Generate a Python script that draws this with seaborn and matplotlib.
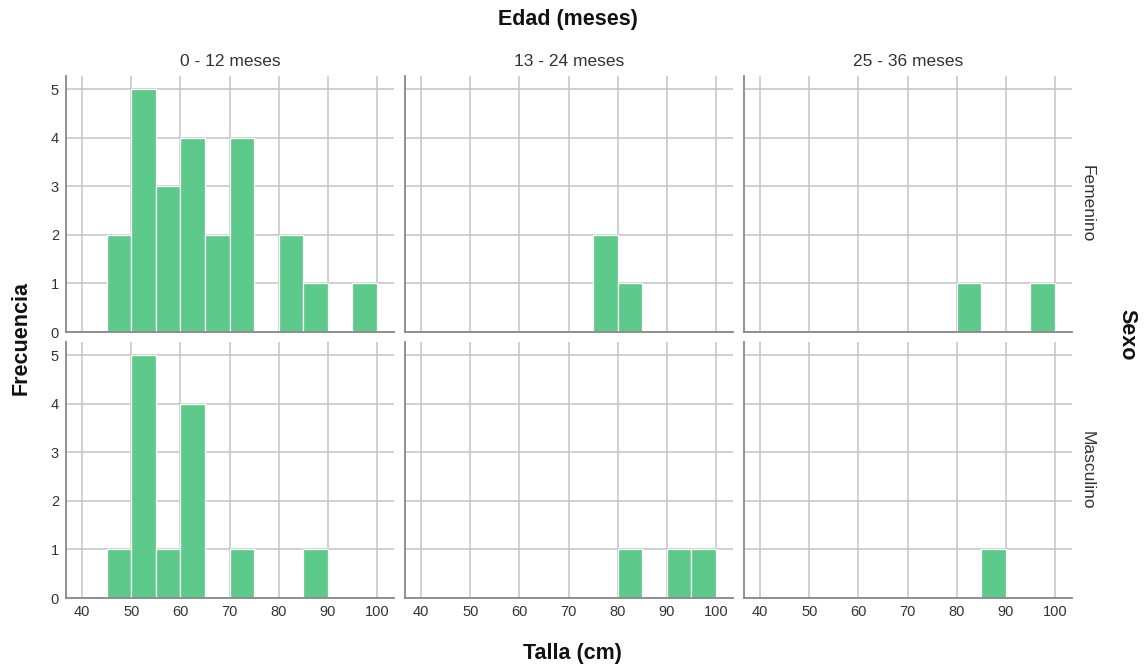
import numpy as np
import pandas as pd
import matplotlib
matplotlib.use("Agg")
import matplotlib.pyplot as plt
import seaborn as sns

# Height bins (cm): 5 cm wide, from 45 to 100
bin_edges = [45, 50, 55, 60, 65, 70, 75, 80, 85, 90, 95, 100]
bin_mid = [47.5, 52.5, 57.5, 62.5, 67.5, 72.5, 77.5, 82.5, 87.5, 92.5, 97.5]

age_groups = ["0 - 12 meses", "13 - 24 meses", "25 - 36 meses"]
sexes = ["Femenino", "Masculino"]

# Frequencies per bin for each sex / age group
fem_0_12 = [2, 5, 3, 4, 2, 4, 0, 2, 1, 0, 1]
fem_13_24 = [0, 0, 0, 0, 0, 0, 2, 1, 0, 0, 0]
fem_25_36 = [0, 0, 0, 0, 0, 0, 0, 1, 0, 0, 1]
mas_0_12 = [1, 5, 1, 4, 0, 1, 0, 0, 1, 0, 0]
mas_13_24 = [0, 0, 0, 0, 0, 0, 0, 1, 0, 1, 1]
mas_25_36 = [0, 0, 0, 0, 0, 0, 0, 0, 1, 0, 0]

x_ticks = [40, 50, 60, 70, 80, 90, 100]
y_ticks = [0, 1, 2, 3, 4, 5]

counts = {
    ("Femenino", "0 - 12 meses"): fem_0_12,
    ("Femenino", "13 - 24 meses"): fem_13_24,
    ("Femenino", "25 - 36 meses"): fem_25_36,
    ("Masculino", "0 - 12 meses"): mas_0_12,
    ("Masculino", "13 - 24 meses"): mas_13_24,
    ("Masculino", "25 - 36 meses"): mas_25_36,
}

rows = []
for (sexo, edad), freq in counts.items():
    for m, f in zip(bin_mid, freq):
        rows.append({"Sexo": sexo, "Edad": edad, "Talla": m, "Frecuencia": f})
df = pd.DataFrame(rows)

sns.set_theme(style="white")
plt.rcParams["font.family"] = ["Liberation Sans", "DejaVu Sans"]

W, H = 1144, 665
fig = plt.figure(figsize=(W / 100, H / 100), dpi=100)

bar_color = "#5DC98A"
grid_color = "#C4C4C4"
spine_color = "#888888"
text_color = "#333333"

col_left = [66, 405, 744]
ax_w = 328
row_top = [76, 342]
ax_h = 256

for ri, sexo in enumerate(sexes):
    for ci, edad in enumerate(age_groups):
        l = col_left[ci] / W
        b = 1 - (row_top[ri] + ax_h) / H
        ax = fig.add_axes([l, b, ax_w / W, ax_h / H])
        sub = df[(df["Sexo"] == sexo) & (df["Edad"] == edad)]
        sns.histplot(data=sub, x="Talla", weights="Frecuencia", bins=bin_edges,
                     color=bar_color, alpha=1, edgecolor="white", linewidth=0.9,
                     ax=ax, zorder=3)
        ax.set_xlim(36.7, 103.5)
        ax.set_ylim(0, 5.27)
        ax.set_xticks(x_ticks)
        ax.set_yticks(y_ticks)
        ax.grid(True, color=grid_color, linewidth=1.1, zorder=0)
        ax.set_axisbelow(True)
        for s in ["top", "right"]:
            ax.spines[s].set_visible(False)
        for s in ["left", "bottom"]:
            ax.spines[s].set_color(spine_color)
            ax.spines[s].set_linewidth(1.3)
            ax.spines[s].set_zorder(5)
        ax.set_xlabel("")
        ax.set_ylabel("")
        ax.tick_params(axis="both", length=0, labelsize=10.5, colors=text_color, pad=5)
        if ci != 0:
            ax.set_yticklabels([])
        if ri == 0:
            ax.set_xticklabels([])
            ax.set_title(edad, fontsize=12.5, color=text_color, pad=7)
        if ci == 2:
            ax.text(1.045, 0.5, sexo, transform=ax.transAxes, rotation=270,
                    ha="center", va="center", fontsize=12.5, color=text_color)

fig.text(568 / W, 1 - 19 / H, "Edad (meses)", ha="center", va="center",
         fontsize=15.5, fontweight="bold", color="#111111")
fig.text(572 / W, 1 - 653 / H, "Talla (cm)", ha="center", va="center",
         fontsize=15.5, fontweight="bold", color="#111111")
fig.text(21 / W, 1 - 338 / H, "Frecuencia", ha="center", va="center",
         rotation=90, fontsize=15.5, fontweight="bold", color="#111111")
fig.text(1127 / W, 1 - 335 / H, "Sexo", ha="center", va="center",
         rotation=270, fontsize=15.5, fontweight="bold", color="#111111")

fig.savefig("out.png", dpi=100)
